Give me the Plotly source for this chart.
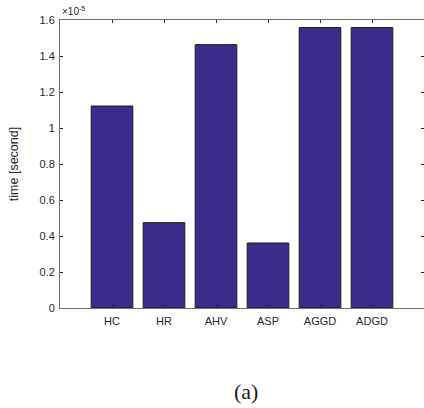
import plotly.graph_objects as go

categories = ["HC", "HR", "AHV", "ASP", "AGGD", "ADGD"]
times = [1.122e-5, 0.474e-5, 1.463e-5, 0.361e-5, 1.558e-5, 1.558e-5]
ytick_vals = [0, 0.2e-5, 0.4e-5, 0.6e-5, 0.8e-5, 1.0e-5, 1.2e-5, 1.4e-5, 1.6e-5]
ytick_text = ["0", "0.2", "0.4", "0.6", "0.8", "1", "1.2", "1.4", "1.6"]

xpos = list(range(1, len(categories) + 1))

SANS = "Liberation Sans"

fig = go.Figure()
fig.add_trace(go.Bar(
    x=xpos, y=times, width=0.8,
    marker=dict(color="#3d2b8c", line=dict(color="#1a1a1a", width=1)),
))

axis_common = dict(
    showline=True, linecolor="#6e6e6e", linewidth=1, mirror="ticks",
    ticks="inside", ticklen=3, tickcolor="#262626", showgrid=False, zeroline=False,
    tickfont=dict(family=SANS, size=11, color="#262626"),
)

fig.update_layout(
    width=424, height=408,
    margin=dict(l=60, r=0, t=20, b=100),
    plot_bgcolor="white", paper_bgcolor="white",
    showlegend=False,
    xaxis=dict(range=[0, 7], tickvals=xpos, ticktext=categories,
               ticklabelstandoff=3, **axis_common),
    yaxis=dict(range=[0, 1.6e-5], tickvals=ytick_vals, ticktext=ytick_text,
               ticklabelstandoff=2,
               title=dict(text="time [second]", standoff=18,
                          font=dict(family=SANS, size=12.5, color="#262626")),
               **axis_common),
    annotations=[
        dict(text="×10<sup>-5</sup>", xref="paper", yref="paper", x=0, y=1,
             xanchor="left", yanchor="bottom", showarrow=False, yshift=1,
             font=dict(family=SANS, size=10, color="#262626")),
        dict(text="(a)", xref="paper", yref="paper", x=0.51, y=-0.29,
             xanchor="center", yanchor="middle", showarrow=False,
             font=dict(family="Liberation Serif", size=22, color="#1a1a1a")),
    ],
)

fig.write_html("out.html")
